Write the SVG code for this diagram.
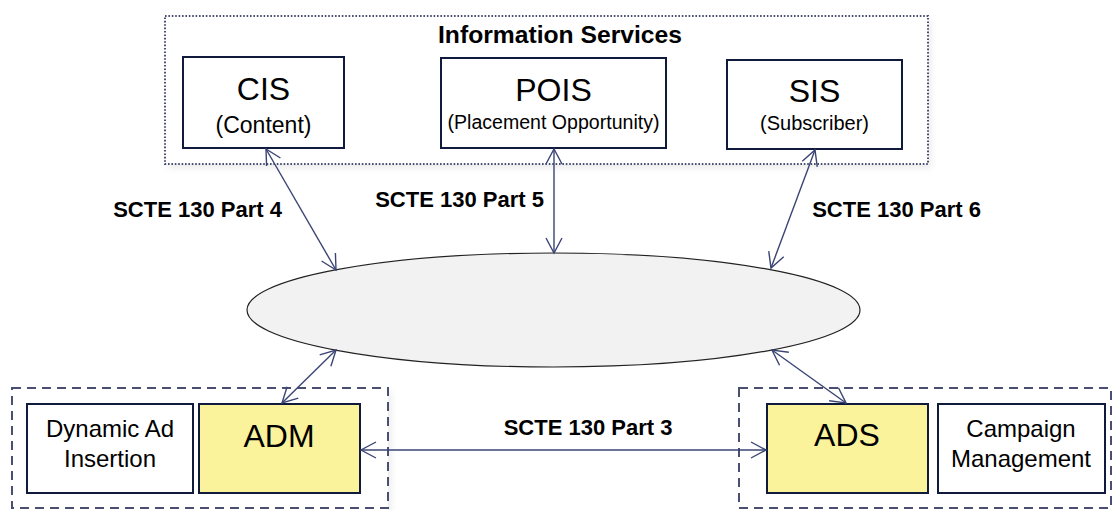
<svg xmlns="http://www.w3.org/2000/svg" width="1112" height="510" viewBox="0 0 1112 510">
  <style>
    text { font-family: "Liberation Sans", Arial, sans-serif; fill: #000; text-anchor: middle; }
    .big { font-size: 32px; }
    .sub { font-size: 23px; }
    .small { font-size: 20px; }
    .lbl { font-size: 24px; }
    .proto { font-size: 22px; font-weight: bold; }
    .title { font-size: 24px; font-weight: bold; }
    .box { fill: #fff; stroke: #0f1a3c; stroke-width: 2; }
    .hl { fill: #faf39b; stroke: #0f1a3c; stroke-width: 2; }
    .frame-dot { fill: none; stroke: #4a4e70; stroke-width: 2; stroke-dasharray: 1.6 1.8; }
    .frame-dash { fill: none; stroke: #4a4e70; stroke-width: 2; stroke-dasharray: 9 6; }
    .link { fill: none; stroke: #3a4574; stroke-width: 1.4; marker-start: url(#arr); marker-end: url(#arr); }
  </style>
  <defs>
    <marker id="arr" viewBox="-17 -10 19 20" refX="0" refY="0" markerWidth="19" markerHeight="20" markerUnits="userSpaceOnUse" orient="auto-start-reverse">
      <path d="M-15,-8 L0,0 L-15,8" fill="none" stroke="#3a4574" stroke-width="1.4"/>
    </marker>
    <filter id="soft" x="-5%" y="-10%" width="110%" height="125%">
      <feDropShadow dx="3" dy="4" stdDeviation="3" flood-color="#000" flood-opacity="0.08"/>
    </filter>
  </defs>

  <!-- grouping frames -->
  <g id="information-services">
    <rect x="165" y="16" width="763" height="148" fill="#fff" filter="url(#soft)"/>
    <rect class="frame-dot" x="165" y="16" width="763" height="148"/>
    <text class="title" x="560" y="43" textLength="244" lengthAdjust="spacingAndGlyphs">Information Services</text>
  </g>
  <g id="dai-group">
    <rect x="12" y="388" width="376" height="122" fill="#fff" filter="url(#soft)"/>
    <rect class="frame-dash" x="12" y="388" width="376" height="120"/>
  </g>
  <g id="campaign-group">
    <rect x="739" y="388" width="373" height="122" fill="#fff" filter="url(#soft)"/>
    <rect class="frame-dash" x="739" y="388" width="372" height="120"/>
  </g>

  <!-- nodes -->
  <g id="cis">
    <rect class="box" x="183" y="57" width="161" height="91"/>
    <text class="big" x="263.5" y="100">CIS</text>
    <text class="sub" x="263.5" y="133">(Content)</text>
  </g>
  <g id="pois">
    <rect class="box" x="441" y="58" width="225" height="90"/>
    <text class="big" x="553.5" y="101">POIS</text>
    <text class="small" x="553.5" y="129" textLength="212" lengthAdjust="spacingAndGlyphs">(Placement  Opportunity)</text>
  </g>
  <g id="sis">
    <rect class="box" x="727" y="60" width="175" height="89"/>
    <text class="big" x="814.5" y="102">SIS</text>
    <text class="small" x="814.5" y="130">(Subscriber)</text>
  </g>
  <g id="network">
    <ellipse cx="553.5" cy="310" rx="306.5" ry="57" fill="#f2f2f2" stroke="#222" stroke-width="1.2"/>
  </g>
  <g id="dai">
    <rect class="box" x="27" y="404" width="166" height="89"/>
    <text class="lbl" x="110" y="437">Dynamic Ad</text>
    <text class="lbl" x="110" y="467">Insertion</text>
  </g>
  <g id="adm">
    <rect class="hl" x="199" y="404" width="161" height="89"/>
    <text class="big" x="279" y="447">ADM</text>
  </g>
  <g id="ads">
    <rect class="hl" x="767" y="404" width="161" height="89"/>
    <text class="big" x="847" y="446">ADS</text>
  </g>
  <g id="campaign">
    <rect class="box" x="938" y="404" width="167" height="89"/>
    <text class="lbl" x="1021" y="437">Campaign</text>
    <text class="lbl" x="1021" y="467">Management</text>
  </g>

  <!-- interfaces -->
  <g id="connectors">
    <line class="link" x1="266" y1="149" x2="336" y2="270"/>
    <line class="link" x1="554" y1="149" x2="554" y2="253"/>
    <line class="link" x1="815" y1="150" x2="771" y2="268"/>
    <line class="link" x1="336" y1="350" x2="282" y2="403"/>
    <line class="link" x1="772" y1="350" x2="846" y2="403"/>
    <line class="link" x1="361" y1="450" x2="766" y2="450"/>
  </g>
  <g id="connector-labels">
    <text class="proto" x="197.5" y="217">SCTE 130 Part 4</text>
    <text class="proto" x="459.5" y="207">SCTE 130 Part 5</text>
    <text class="proto" x="896.5" y="217">SCTE 130 Part 6</text>
    <text class="proto" x="588" y="435">SCTE 130 Part 3</text>
  </g>
</svg>
